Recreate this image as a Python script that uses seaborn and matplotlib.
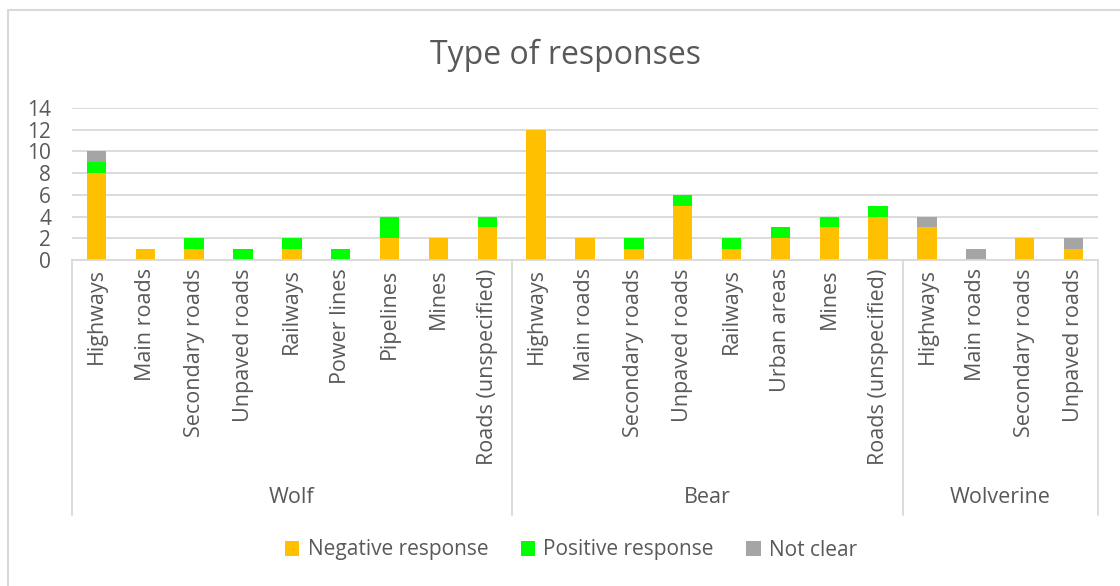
import numpy as np
import pandas as pd
import matplotlib
matplotlib.use("Agg")
import matplotlib.pyplot as plt
import matplotlib.transforms as mtransforms
from matplotlib.patches import Patch
from matplotlib.lines import Line2D
import seaborn as sns

# Responses per species and infrastructure type
species = ["Wolf"] * 9 + ["Bear"] * 8 + ["Wolverine"] * 4
structures = [
    "Highways", "Main roads", "Secondary roads", "Unpaved roads", "Railways",
    "Power lines", "Pipelines", "Mines", "Roads (unspecified)",
    "Highways", "Main roads", "Secondary roads", "Unpaved roads", "Railways",
    "Urban areas", "Mines", "Roads (unspecified)",
    "Highways", "Main roads", "Secondary roads", "Unpaved roads",
]
negative = [8, 1, 1, 0, 1, 0, 2, 2, 3,
            12, 2, 1, 5, 1, 2, 3, 4,
            3, 0, 2, 1]
positive = [1, 0, 1, 1, 1, 1, 2, 0, 1,
            0, 0, 1, 1, 1, 1, 1, 1,
            0, 0, 0, 0]
not_clear = [1, 0, 0, 0, 0, 0, 0, 0, 0,
             0, 0, 0, 0, 0, 0, 0, 0,
             1, 1, 0, 1]
groups = ["Wolf", "Bear", "Wolverine"]
series_names = ["Negative response", "Positive response", "Not clear"]
y_ticks = [0, 2, 4, 6, 8, 10, 12, 14]

colors = {"Negative response": "#FFC000",
          "Positive response": "#00FF00",
          "Not clear": "#A5A5A5"}
text_color = "#595959"
line_color = "#D9D9D9"

sns.set_style("white")
plt.rcParams["font.family"] = ["Open Sans", "DejaVu Sans"]

keys = [f"{s}|{t}" for s, t in zip(species, structures)]
df = pd.DataFrame({
    "key": keys,
    "neg": negative,
    "pos": positive,
    "unc": not_clear,
})
# cumulative heights for the stacked segments
df["top_neg"] = df["neg"]
df["top_pos"] = df["neg"] + df["pos"]
df["top_unc"] = df["neg"] + df["pos"] + df["unc"]

W, H = 1120, 586
fig = plt.figure(figsize=(W / 100, H / 100), dpi=100)
ax = fig.add_axes([72 / W, 1 - 260 / H, (1098 - 72) / W, 152 / H])

for col, name in [("top_unc", "Not clear"), ("top_pos", "Positive response"),
                  ("top_neg", "Negative response")]:
    sns.barplot(data=df, x="key", y=col, order=keys, color=colors[name],
                saturation=1, width=0.4, errorbar=None, linewidth=0, ax=ax)

ax.set_xlim(-0.5, len(keys) - 0.5)
ax.set_ylim(0, 14)
ax.set_yticks(y_ticks)
ax.set_yticklabels([str(v) for v in y_ticks])
ax.set_axisbelow(True)
ax.yaxis.grid(True, color=line_color, linewidth=1.3)
ax.xaxis.grid(False)
ax.set_xlabel("")
ax.set_ylabel("")
for side in ["left", "right", "top"]:
    ax.spines[side].set_visible(False)
ax.spines["bottom"].set_color(line_color)
ax.spines["bottom"].set_linewidth(1.3)

ax.tick_params(axis="y", length=0, pad=15, labelsize=15, labelcolor=text_color)
ax.set_xticks(range(len(keys)))
ax.set_xticklabels(structures, rotation=90, va="top", ha="center")
ax.tick_params(axis="x", length=0, pad=6, labelsize=15.5, labelcolor=text_color)

# group separators and group labels below the category labels
trans = mtransforms.blended_transform_factory(ax.transData, ax.transAxes)
bounds = [-0.5]
for g in groups:
    bounds.append(bounds[-1] + species.count(g))
sep_bottom = -(515 - 260) / 152
for b in bounds:
    ax.plot([b, b], [0, sep_bottom], transform=trans, color=line_color,
            linewidth=1.3, clip_on=False)
label_y = -(498 - 260) / 152
for g, lo, hi in zip(groups, bounds[:-1], bounds[1:]):
    ax.text((lo + hi) / 2, label_y, g, transform=trans, ha="center",
            va="center", fontsize=15.5, color=text_color)

fig.text(566 / W, 1 - 55 / H, "Type of responses", ha="center", va="center",
         fontsize=23, color=text_color)

handles = [Patch(facecolor=colors[n], edgecolor="none") for n in series_names]
fig.legend(handles, series_names, loc="center", bbox_to_anchor=(571 / W, 1 - 550 / H),
           ncol=3, frameon=False, fontsize=15, labelcolor=text_color,
           handlelength=0.7, handleheight=0.7, handletextpad=0.4, columnspacing=1.55)

# chart area frame (left and top edges)
fig.add_artist(Line2D([8 / W, 8 / W], [0, 1 - 10 / H], transform=fig.transFigure,
                      color=line_color, linewidth=1.5))
fig.add_artist(Line2D([8 / W, 1], [1 - 10 / H, 1 - 10 / H], transform=fig.transFigure,
                      color=line_color, linewidth=1.5))

fig.savefig("out.png", dpi=100)
